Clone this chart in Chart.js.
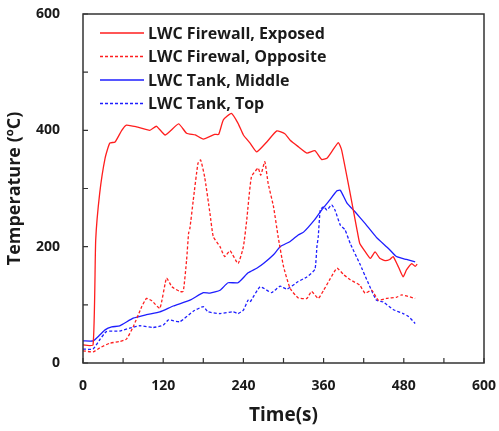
<!DOCTYPE html>
<html>
<head>
<meta charset="utf-8">
<script src="https://cdn.jsdelivr.net/npm/chart.js@4"></script>
<style>
  html, body { margin: 0; padding: 0; background: #fff; }
  #wrap { width: 499px; height: 431px; }
</style>
</head>
<body>
<div id="wrap"><canvas id="chart" width="499" height="431"></canvas></div>
<script>
// values
const seriesLabels = ['LWC Firewall, Exposed', 'LWC Firewal, Opposite', 'LWC Tank, Middle', 'LWC Tank, Top'];

const exposedTime = [0, 15, 19, 25, 33, 40, 48, 58, 65, 80, 100, 110, 123, 143, 155, 168, 180, 197, 203, 210, 222, 232, 240, 250, 260, 275, 290, 302, 310, 322, 335, 347, 357, 365, 372, 382, 387, 400, 410, 414, 422, 430, 437, 444, 452, 459, 464, 472, 479, 484, 492, 497, 500];
const exposedTemp = [31, 31, 211, 292, 352, 378, 380, 400, 409, 406, 400, 407, 392, 411, 395, 392, 385, 393, 393, 418, 429, 412, 392, 378, 363, 380, 399, 394, 383, 372, 361, 365, 350, 352, 363, 379, 366, 290, 229, 206, 192, 180, 191, 180, 176, 178, 183, 165, 148, 160, 171, 166, 170];

const oppositeTime = [0, 15, 25, 40, 55, 65, 75, 88, 95, 103, 115, 125, 133, 145, 150, 155, 158, 160, 165, 172, 176, 182, 190, 195, 205, 212, 220, 232, 240, 245, 252, 262, 266, 272, 277, 285, 292, 300, 310, 322, 335, 342, 352, 360, 370, 380, 390, 400, 414, 422, 432, 442, 454, 469, 477, 497];
const oppositeTemp = [21, 19, 26, 34, 37, 41, 62, 97, 111, 107, 94, 146, 131, 123, 123, 177, 223, 232, 280, 343, 349, 320, 257, 217, 200, 183, 193, 171, 200, 246, 320, 335, 323, 346, 309, 269, 217, 166, 128, 112, 111, 123, 111, 125, 145, 163, 152, 143, 134, 120, 125, 108, 111, 113, 117, 111];

const middleTime = [0, 15, 25, 33, 43, 55, 75, 95, 115, 135, 160, 180, 190, 205, 217, 232, 247, 260, 270, 285, 295, 310, 322, 330, 347, 357, 367, 380, 385, 395, 407, 422, 439, 457, 469, 484, 497];
const middleTemp = [38, 38, 48, 57, 62, 64, 77, 83, 88, 98, 108, 121, 120, 125, 138, 138, 155, 163, 171, 186, 200, 209, 220, 225, 247, 263, 277, 296, 297, 275, 260, 240, 216, 197, 183, 178, 174];

const topTime = [0, 15, 25, 35, 55, 70, 85, 105, 120, 128, 145, 165, 180, 187, 205, 225, 232, 240, 247, 250, 265, 282, 295, 305, 322, 335, 347, 350, 352, 355, 360, 365, 372, 377, 385, 392, 400, 414, 427, 439, 449, 464, 479, 487, 497];
const topTemp = [24, 24, 40, 54, 55, 60, 64, 61, 65, 74, 71, 89, 97, 88, 85, 88, 85, 91, 108, 105, 131, 121, 132, 127, 140, 148, 161, 200, 217, 263, 269, 263, 272, 263, 237, 229, 205, 171, 137, 108, 105, 92, 85, 80, 68];

const xTickLabels = [0, 120, 240, 360, 480, 600];
const yTickLabels = [0, 200, 400, 600];

function pts(t, v) {
  return t.map((x, i) => ({ x: x, y: v[i] }));
}

const red = 'rgb(255, 30, 30)';
const blue = 'rgb(30, 30, 255)';
const fontFam = '"Open Sans", "Liberation Sans", sans-serif';

// legend drawn inside the plot, top left
const innerLegend = {
  id: 'innerLegend',
  afterDraw(chart) {
    const ctx = chart.ctx;
    const area = chart.chartArea;
    ctx.save();
    ctx.font = 'bold 16px ' + fontFam;
    ctx.textBaseline = 'middle';
    chart.data.datasets.forEach((ds, i) => {
      const y = area.top + 19 + i * 23.5;
      ctx.strokeStyle = ds.borderColor;
      ctx.lineWidth = 1.3;
      ctx.setLineDash(ds.borderDash || []);
      ctx.beginPath();
      ctx.moveTo(area.left + 17, y);
      ctx.lineTo(area.left + 61, y);
      ctx.stroke();
      ctx.setLineDash([]);
      ctx.fillStyle = '#1a1a1a';
      ctx.fillText(ds.label, area.left + 65, y + 1);
    });
    ctx.restore();
  }
};

// frame box and inward tick marks
const frameTicks = {
  id: 'frameTicks',
  afterDraw(chart) {
    const ctx = chart.ctx;
    const a = chart.chartArea;
    const xs = chart.scales.x, ys = chart.scales.y;
    ctx.save();
    ctx.strokeStyle = '#333';
    ctx.lineWidth = 1.5;
    ctx.strokeRect(a.left, a.top, a.right - a.left, a.bottom - a.top);
    ctx.lineWidth = 1.2;
    ctx.beginPath();
    xs.ticks.forEach(t => {
      const px = xs.getPixelForValue(t.value);
      ctx.moveTo(px, a.bottom);
      ctx.lineTo(px, a.bottom - 5);
    });
    ys.ticks.forEach(t => {
      const py = ys.getPixelForValue(t.value);
      ctx.moveTo(a.left, py);
      ctx.lineTo(a.left + 5, py);
    });
    ctx.stroke();
    ctx.restore();
  }
};

const ctx = document.getElementById('chart').getContext('2d');
new Chart(ctx, {
  type: 'line',
  data: {
    datasets: [
      { label: seriesLabels[0], data: pts(exposedTime, exposedTemp), borderColor: red, borderWidth: 1.3 },
      { label: seriesLabels[1], data: pts(oppositeTime, oppositeTemp), borderColor: red, borderWidth: 1.3, borderDash: [3, 2] },
      { label: seriesLabels[2], data: pts(middleTime, middleTemp), borderColor: blue, borderWidth: 1.3 },
      { label: seriesLabels[3], data: pts(topTime, topTemp), borderColor: blue, borderWidth: 1.3, borderDash: [3, 2] }
    ]
  },
  options: {
    responsive: false,
    animation: false,
    layout: { padding: { top: 14, right: 15, left: 0, bottom: 0 } },
    elements: { point: { radius: 0 }, line: { tension: 0.15, fill: false } },
    plugins: { legend: { display: false }, tooltip: { enabled: false } },
    scales: {
      x: {
        type: 'linear',
        min: 0, max: 600,
        afterFit: s => { s.height = 68; s.paddingLeft = 0; s.paddingRight = 0; },
        grid: { display: false },
        border: { display: false },
        ticks: {
          stepSize: 60,
          padding: 7,
          color: '#1a1a1a',
          font: { family: fontFam, size: 14, weight: 'bold' },
          maxRotation: 0,
          autoSkip: false,
          callback: v => xTickLabels.includes(v) ? String(v) : ''
        },
        title: {
          display: true,
          text: 'Time(s)',
          color: '#1a1a1a',
          font: { family: fontFam, size: 19, weight: 'bold' },
          padding: { top: 11 }
        }
      },
      y: {
        min: 0, max: 600,
        afterFit: s => { s.width = 83; s.paddingTop = 0; s.paddingBottom = 0; },
        grid: { display: false },
        border: { display: false },
        ticks: {
          stepSize: 100,
          padding: 15,
          color: '#1a1a1a',
          font: { family: fontFam, size: 14, weight: 'bold' },
          autoSkip: false,
          callback: v => yTickLabels.includes(v) ? String(v) : ''
        },
        title: {
          display: true,
          text: 'Temperature (ºC)',
          color: '#1a1a1a',
          font: { family: fontFam, size: 18, weight: 'bold' },
          padding: { bottom: 4 }
        }
      }
    }
  },
  plugins: [innerLegend, frameTicks]
});
</script>
</body>
</html>
